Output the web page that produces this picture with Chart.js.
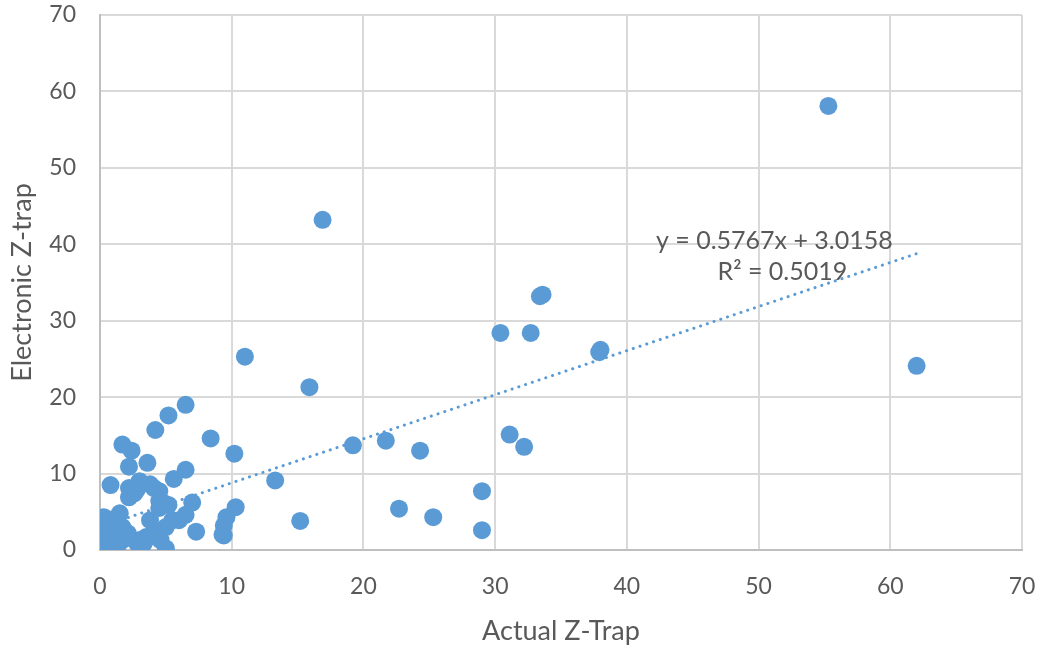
<!DOCTYPE html>
<html>
<head>
<meta charset="utf-8">
<script src="https://cdn.jsdelivr.net/npm/chart.js@4/dist/chart.umd.min.js"></script>
<style>
  html, body { margin: 0; padding: 0; background: #fff; }
  #wrap { width: 1045px; height: 649px; }
</style>
</head>
<body>
<div id="wrap"><canvas id="zChart"></canvas></div>
<script>
// values
const actualZ = [
  55.3, 62.0, 16.9, 33.4, 33.6, 37.9, 38.0, 30.4, 32.7, 31.1,
  32.2, 29.0, 29.0, 25.3, 22.7, 24.3, 21.7, 19.2, 15.9, 15.2,
  11.0, 13.3, 10.3, 10.2, 8.4, 6.5, 5.2, 4.2, 1.7, 2.4,
  2.2, 3.6, 6.5, 5.6, 0.8, 9.6, 9.4, 9.4, 7.3, 7.0,
  6.5, 6.0, 5.0, 4.5, 5.0, 5.2, 4.5, 4.9, 2.2, 2.2,
  3.0, 3.8, 4.5, 2.6, 4.1, 2.8, 0.3, 0.9, 1.5, 1.7,
  3.8, 0.0, 0.7, 1.7, 0.2, 1.2, 3.0, 3.5, 2.1, 4.1,
  1.3, 2.8, 4.6, 0.5, 0.1, 1.0, 0.4, 2.0, 3.3, 0.6,
  1.4, 4.5, 5.5, 3.8, 9.3
];
const electronicZ = [
  58.1, 24.1, 43.2, 33.2, 33.4, 25.9, 26.2, 28.4, 28.4, 15.1,
  13.5, 7.7, 2.6, 4.3, 5.4, 13.0, 14.3, 13.7, 21.3, 3.8,
  25.3, 9.1, 5.6, 12.6, 14.6, 19.0, 17.6, 15.7, 13.8, 13.0,
  10.9, 11.4, 10.5, 9.3, 8.5, 4.3, 3.2, 1.9, 2.4, 6.2,
  4.6, 3.9, 3.0, 2.4, 0.2, 5.9, 6.4, 6.1, 6.9, 8.1,
  9.0, 8.6, 7.7, 7.4, 8.1, 7.9, 4.3, 3.9, 4.8, 3.0,
  3.9, 1.7, 1.3, 1.3, 0.0, 0.0, 1.3, 1.7, 2.2, 2.2,
  0.4, 0.9, 1.3, 0.4, 1.0, 2.5, 3.0, 1.8, 0.8, 4.0,
  2.9, 5.5, 3.9, 1.7, 2.0
];
const xTicks = [0, 10, 20, 30, 40, 50, 60, 70];
const yTicks = [0, 10, 20, 30, 40, 50, 60, 70];

// linear trendline as printed on the chart
const trendSlope = 0.5767;
const trendIntercept = 3.0158;
const trendRange = [0.1, 62.0];
const trendLabels = ['y = 0.5767x + 3.0158', 'R² = 0.5019'];

const points = actualZ.map((x, i) => ({ x: x, y: electronicZ[i] }));
const trendPoints = trendRange.map(x => ({ x: x, y: trendSlope * x + trendIntercept }));

const textColor = '#595959';
const fontFamily = 'Lato, "Open Sans", sans-serif';

const trendLabelPlugin = {
  id: 'trendLabel',
  afterDatasetsDraw(chart) {
    const ctx = chart.ctx;
    const xs = chart.scales.x, ys = chart.scales.y;
    const cx = xs.getPixelForValue(51.2);
    const cy = ys.getPixelForValue(40.4);
    ctx.save();
    ctx.fillStyle = textColor;
    ctx.font = '25px ' + fontFamily;
    ctx.textAlign = 'center';
    ctx.textBaseline = 'middle';
    ctx.fillText(trendLabels[0], cx, cy);
    ctx.fillText(trendLabels[1], cx + 8, cy + 31);
    ctx.restore();
  }
};

// drop the label-overflow padding so the plot area matches the original
function noLabelPadding(scale) {
  scale.paddingTop = 0;
  scale.paddingBottom = 0;
  scale.paddingLeft = 0;
  scale.paddingRight = 0;
}

new Chart(document.getElementById('zChart'), {
  type: 'scatter',
  data: {
    datasets: [
      {
        label: 'Trend',
        type: 'line',
        data: trendPoints,
        borderColor: '#5b9bd5',
        borderWidth: 3,
        borderDash: [0.1, 7],
        borderCapStyle: 'round',
        pointRadius: 0,
        fill: false,
        order: 0
      },
      {
        label: 'Z-trap',
        data: points,
        backgroundColor: '#5b9bd5',
        borderWidth: 0,
        pointRadius: 9,
        pointHoverRadius: 9,
        order: 1
      }
    ]
  },
  options: {
    responsive: true,
    maintainAspectRatio: false,
    animation: false,
    layout: { padding: { left: 0, right: 23, top: 15, bottom: 0 } },
    plugins: {
      legend: { display: false },
      tooltip: { enabled: false }
    },
    scales: {
      x: {
        type: 'linear',
        min: 0,
        max: 70,
        afterBuildTicks: (scale) => { scale.ticks = xTicks.map(v => ({ value: v })); },
        afterFit: (scale) => { scale.height = 99; noLabelPadding(scale); },
        grid: { color: '#d9d9d9', lineWidth: 2, drawTicks: false },
        border: { color: '#bfbfbf', width: 2 },
        ticks: { color: textColor, font: { family: fontFamily, size: 23 }, padding: 23 },
        title: {
          display: true,
          text: 'Actual Z-Trap',
          color: textColor,
          font: { family: fontFamily, size: 27 },
          padding: { top: 0, bottom: 2 }
        }
      },
      y: {
        type: 'linear',
        min: 0,
        max: 70,
        afterBuildTicks: (scale) => { scale.ticks = yTicks.map(v => ({ value: v })); },
        afterFit: (scale) => { scale.width = 100; noLabelPadding(scale); },
        grid: { color: '#d9d9d9', lineWidth: 2, drawTicks: false },
        border: { color: '#bfbfbf', width: 2 },
        ticks: { color: textColor, font: { family: fontFamily, size: 23 }, padding: 24 },
        title: {
          display: true,
          text: 'Electronic Z-trap',
          color: textColor,
          font: { family: fontFamily, size: 27 },
          padding: { top: 6, bottom: 0 }
        }
      }
    }
  },
  plugins: [trendLabelPlugin]
});
</script>
</body>
</html>
